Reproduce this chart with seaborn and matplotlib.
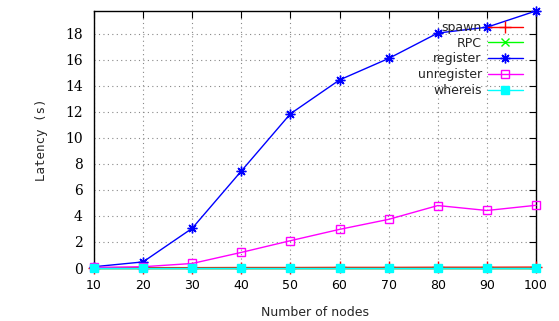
import pandas as pd
import seaborn as sns
import matplotlib.pyplot as plt

nodes = [10, 20, 30, 40, 50, 60, 70, 80, 90, 100]
spawn = [0.02, 0.03, 0.03, 0.04, 0.04, 0.05, 0.05, 0.06, 0.06, 0.07]
rpc = [0.01, 0.01, 0.01, 0.01, 0.01, 0.01, 0.01, 0.01, 0.01, 0.01]
register = [0.1, 0.47, 3.05, 7.45, 11.85, 14.45, 16.1, 18.05, 18.5, 19.75]
unregister = [0.05, 0.1, 0.35, 1.2, 2.1, 2.97, 3.74, 4.8, 4.42, 4.82]
whereis = [0.0, 0.0, 0.0, 0.0, 0.0, 0.0, 0.0, 0.0, 0.0, 0.0]

names = ['spawn', 'RPC', 'register', 'unregister', 'whereis']
series = [spawn, rpc, register, unregister, whereis]
colors = ['#ff0000', '#00ff00', '#0000ff', '#ff00ff', '#00ffff']
markers = ['+', 'x', (8, 2, 0), 's', 's']
msizes = [8, 6, 7, 6, 6]
fills = [True, True, True, False, True]

df = pd.concat([pd.DataFrame({'nodes': nodes, 'latency': s, 'op': n})
                for n, s in zip(names, series)])

sns.set_style('white')
fig = plt.figure(figsize=(5.59, 3.21), dpi=100)
ax = fig.add_axes([0.168, 0.165, 0.791, 0.801])

for n, c, m, ms, f in zip(names, colors, markers, msizes, fills):
    sub = df[df['op'] == n]
    sns.lineplot(x='nodes', y='latency', data=sub, ax=ax, color=c, marker=m,
                 markersize=ms, linewidth=1,
                 markerfacecolor=c if f else 'none', markeredgecolor=c,
                 markeredgewidth=1, label=n, clip_on=False, zorder=3)

ax.set_xlim(10, 100)
ax.set_ylim(0, 19.75)
ax.set_xticks(nodes)
ax.set_yticks(range(0, 19, 2))
ax.grid(True, color='#888888', linestyle=(0, (1, 3)), linewidth=0.8)
for sp in ax.spines.values():
    sp.set_color('black')
    sp.set_linewidth(1)
ax.tick_params(direction='in', top=True, right=True, length=5, width=0.8,
               colors='black', pad=8)
for t in ax.get_yticklabels():
    t.set_family('DejaVu Serif')
    t.set_fontsize(10)
for t in ax.get_xticklabels():
    t.set_family('DejaVu Sans')
    t.set_fontsize(9)

ax.set_xlabel('Number of nodes', fontsize=9, family='DejaVu Sans', labelpad=10)
ax.set_ylabel('Latency (s)', fontsize=9, family='DejaVu Sans Mono', labelpad=12)

# markerfirst=False right-aligns the labels against the line samples
ax.legend(loc='upper right', frameon=False, markerfirst=False,
          fontsize=9, handlelength=2.8, labelspacing=0.22,
          handletextpad=0.5, borderaxespad=0.3,
          bbox_to_anchor=(0.99, 0.995))

fig.savefig('out.png', dpi=100)
